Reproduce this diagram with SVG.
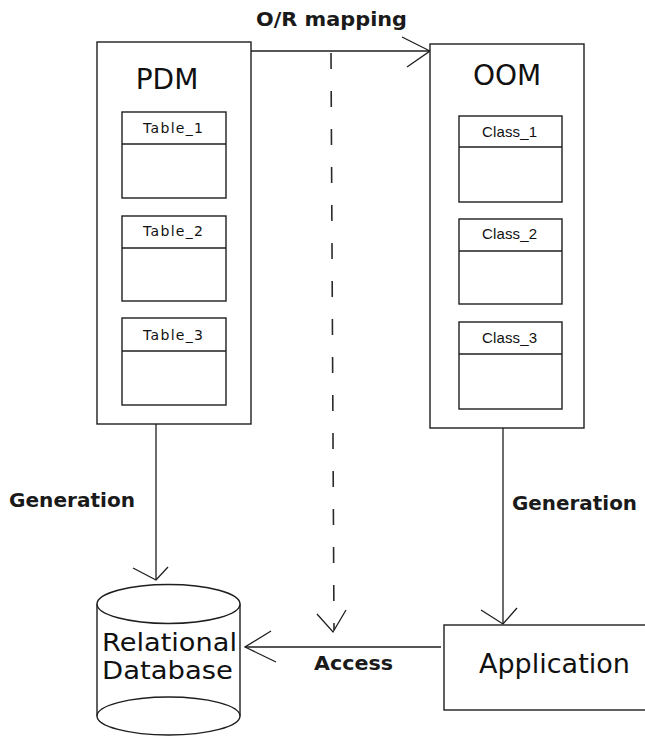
<svg xmlns="http://www.w3.org/2000/svg" width="645" height="736" viewBox="0 0 645 736">
<style>
.box{fill:#fff;stroke:#1e1e1e;stroke-width:1.4}
.ln{fill:none;stroke:#1e1e1e;stroke-width:1.3}
.dash{fill:none;stroke:#2a2a2a;stroke-width:1.6;stroke-dasharray:16 22}
.big{font-family:"DejaVu Sans",Verdana,sans-serif;font-size:28px;fill:#111}
.db{font-family:"DejaVu Sans",Verdana,sans-serif;font-size:25px;fill:#111}
.app{font-family:"DejaVu Sans",Verdana,sans-serif;font-size:27px;fill:#111}
.tbl{font-family:"DejaVu Sans",Verdana,sans-serif;font-size:14px;fill:#111}
.cls{font-family:"Liberation Sans",Arial,sans-serif;font-size:15px;fill:#111}
.lbl{font-family:"DejaVu Sans",Verdana,sans-serif;font-size:19px;font-weight:bold;fill:#1a1a1a}
</style>
<rect width="645" height="736" fill="#fff"/>
<g id="connectors">
  <g id="or-mapping">
    <line class="ln" x1="251" y1="51" x2="430" y2="51"/>
    <polyline class="ln" points="402,37 430,51 407,67"/>
    <text class="lbl" x="256" y="26" textLength="151" lengthAdjust="spacingAndGlyphs">O/R mapping</text>
  </g>
  <g id="dashed-access">
    <line class="dash" x1="331" y1="53" x2="334" y2="630"/>
    <polyline class="ln" points="317,614 333,632 346,610"/>
  </g>
  <g id="gen-pdm">
    <line class="ln" x1="156" y1="424" x2="156" y2="580"/>
    <polyline class="ln" points="133,568 156,580 168,567"/>
    <text class="lbl" x="9" y="507" textLength="126" lengthAdjust="spacingAndGlyphs">Generation</text>
  </g>
  <g id="gen-oom">
    <line class="ln" x1="503" y1="428" x2="503" y2="624"/>
    <polyline class="ln" points="481,610 503,624 517,608"/>
    <text class="lbl" x="512" y="510" textLength="125" lengthAdjust="spacingAndGlyphs">Generation</text>
  </g>
  <g id="access">
    <line class="ln" x1="245" y1="647" x2="441" y2="647"/>
    <polyline class="ln" points="271,631 245,647 276,662"/>
    <text class="lbl" x="314" y="670" textLength="79" lengthAdjust="spacingAndGlyphs">Access</text>
  </g>
</g>
<g id="pdm">
  <rect class="box" x="97" y="42" width="154" height="382"/>
  <text class="big" x="167" y="89" text-anchor="middle">PDM</text>
  <g id="table1">
    <rect class="box" x="122" y="112" width="104" height="86"/>
    <line class="ln" x1="122" y1="144" x2="226" y2="144"/>
    <text class="tbl" x="143" y="133" textLength="60" lengthAdjust="spacing">Table_1</text>
  </g>
  <g id="table2">
    <rect class="box" x="122" y="216" width="104" height="85"/>
    <line class="ln" x1="122" y1="248" x2="226" y2="248"/>
    <text class="tbl" x="143" y="236" textLength="60" lengthAdjust="spacing">Table_2</text>
  </g>
  <g id="table3">
    <rect class="box" x="122" y="318" width="104" height="87"/>
    <line class="ln" x1="122" y1="351" x2="226" y2="351"/>
    <text class="tbl" x="143" y="340" textLength="60" lengthAdjust="spacing">Table_3</text>
  </g>
</g>
<g id="oom">
  <rect class="box" x="430" y="44" width="154" height="384"/>
  <text class="big" x="507" y="85" text-anchor="middle">OOM</text>
  <g id="class1">
    <rect class="box" x="459" y="116" width="103" height="86"/>
    <line class="ln" x1="459" y1="147" x2="562" y2="147"/>
    <text class="cls" x="482" y="137" textLength="55" lengthAdjust="spacing">Class_1</text>
  </g>
  <g id="class2">
    <rect class="box" x="459" y="219" width="103" height="85"/>
    <line class="ln" x1="459" y1="251" x2="562" y2="251"/>
    <text class="cls" x="482" y="239" textLength="55" lengthAdjust="spacing">Class_2</text>
  </g>
  <g id="class3">
    <rect class="box" x="459" y="322" width="103" height="87"/>
    <line class="ln" x1="459" y1="354" x2="562" y2="354"/>
    <text class="cls" x="482" y="343" textLength="55" lengthAdjust="spacing">Class_3</text>
  </g>
</g>
<g id="database">
  <path class="box" d="M97,604 L97,716 A71.5,19 0 0 0 240,716 L240,604"/>
  <path class="ln" d="M97,716 A71.5,19 0 0 1 240,716"/>
  <ellipse class="box" cx="168.5" cy="604" rx="71.5" ry="19.5"/>
  <text class="db" x="102" y="651" textLength="135" lengthAdjust="spacingAndGlyphs">Relational</text>
  <text class="db" x="102" y="679" textLength="131" lengthAdjust="spacingAndGlyphs">Database</text>
</g>
<g id="application">
  <rect class="box" x="444" y="625" width="215" height="85"/>
  <text class="app" x="479" y="673">Application</text>
</g>
</svg>
